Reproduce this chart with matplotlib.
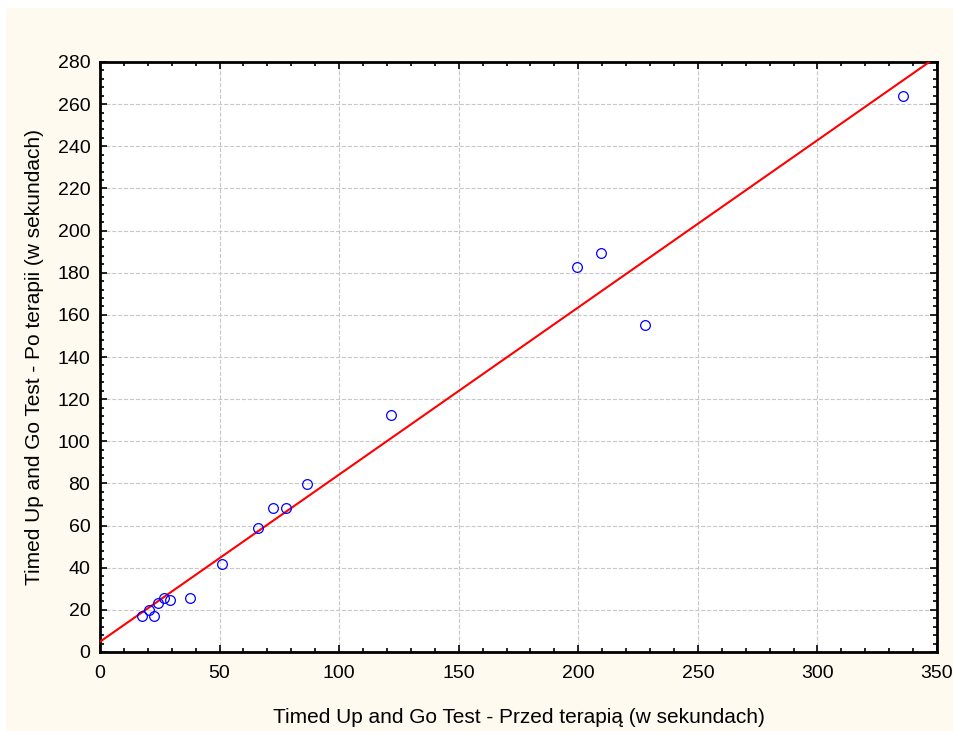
import numpy as np
import matplotlib
matplotlib.use('Agg')
import matplotlib.pyplot as plt
from matplotlib.patches import Rectangle
from matplotlib.ticker import MultipleLocator

plt.rcParams['font.family'] = ['Liberation Sans', 'DejaVu Sans']

# Timed Up and Go Test values (seconds)
przed = [17.4, 20.5, 22.6, 24.1, 26.8, 29.3, 37.5, 50.9, 66.1, 72.4, 77.8,
         86.6, 121.7, 199.5, 209.5, 227.9, 335.8]
po = [16.9, 19.9, 16.9, 23.1, 25.8, 24.5, 25.5, 41.8, 58.9, 68.3, 68.3,
      79.7, 112.5, 182.7, 189.4, 155.2, 263.9]

x_label = 'Timed Up and Go Test - Przed terapią (w sekundach)'
y_label = 'Timed Up and Go Test - Po terapii (w sekundach)'

fig = plt.figure(figsize=(9.54, 7.31), dpi=100)
fig.patch.set_facecolor('white')
# cream panel behind the plot
fig.patches.append(Rectangle((6 / 954, 0), 1, 1 - 8 / 731, transform=fig.transFigure,
                             facecolor='#fefaf0', edgecolor='none', zorder=-10))

ax = fig.add_axes([100 / 954, 1 - 652 / 731, 837 / 954, 590 / 731])
ax.set_facecolor('white')

# linear fit line
slope, intercept = np.polyfit(przed, po, 1)
xs = np.array([0, 350])
ax.plot(xs, intercept + slope * xs, color='red', lw=1.5, zorder=3)

ax.plot(przed, po, 'o', mfc='none', mec='blue', ms=7, mew=0.9, zorder=4)

ax.set_xlim(0, 350)
ax.set_ylim(0, 280)
ax.xaxis.set_major_locator(MultipleLocator(50))
ax.xaxis.set_minor_locator(MultipleLocator(10))
ax.yaxis.set_major_locator(MultipleLocator(20))
ax.yaxis.set_minor_locator(MultipleLocator(4))
ax.tick_params(which='both', direction='in', top=True, right=True,
               labelsize=14, width=1.2, color='black')
ax.tick_params(which='major', length=5)
ax.tick_params(axis='x', which='major', pad=9)
ax.tick_params(axis='y', which='major', pad=7)
ax.tick_params(which='minor', length=3)
for s in ax.spines.values():
    s.set_linewidth(2)
ax.grid(True, which='major', ls='--', color='#c8c8c8', lw=0.8)
ax.set_axisbelow(True)

ax.set_xlabel(x_label, fontsize=15, labelpad=19)
ax.set_ylabel(y_label, fontsize=15, labelpad=10)

fig.savefig('out.png', dpi=100, facecolor=fig.get_facecolor())
